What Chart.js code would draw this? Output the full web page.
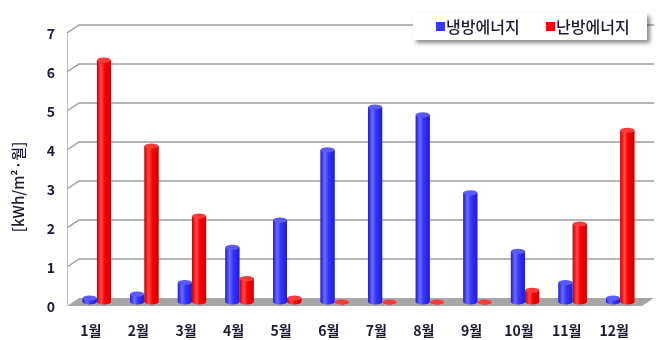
<!DOCTYPE html>
<html>
<head>
<meta charset="utf-8">
<script src="https://cdn.jsdelivr.net/npm/chart.js@4.4.1/dist/chart.umd.min.js"></script>
<style>
  html, body { margin: 0; padding: 0; background: #ffffff; }
  #wrap { width: 659px; height: 340px; position: relative; }
</style>
</head>
<body>
<div id="wrap"><canvas id="c" width="659" height="340"></canvas></div>
<script>
// Monthly energy demand per unit floor area
const months = ['1월', '2월', '3월', '4월', '5월', '6월', '7월', '8월', '9월', '10월', '11월', '12월'];
const coolingEnergy = [0.1, 0.2, 0.5, 1.4, 2.1, 3.9, 5.0, 4.8, 2.8, 1.3, 0.5, 0.1];
const heatingEnergy = [6.2, 4.0, 2.2, 0.6, 0.1, 0, 0, 0, 0, 0.3, 2.0, 4.4];
const yTicks = [0, 1, 2, 3, 4, 5, 6, 7];
const yTitle = '[kWh/m²·월]';

const seriesNames = ['냉방에너지', '난방에너지'];
const seriesColors = [
  { base: '#3535ff', light: '#6c6cff', dark: '#1e1ed0', top: '#5a5aff' },
  { base: '#ff0000', light: '#ff4a4a', dark: '#c80000', top: '#ff3a3a' }
];

// depth offsets for the pseudo-3D walls and floor
const DX = 6, DY = 4;

const wallPlugin = {
  id: 'wall3d',
  beforeDatasetsDraw(chart) {
    const { ctx, chartArea: a, scales: { y } } = chart;
    const leftFront = a.left - DX, leftBack = a.left + DX;
    const rightBack = a.right + DX + 4;
    ctx.save();
    // floor
    const y0 = y.getPixelForValue(0);
    ctx.fillStyle = '#a6a6a6';
    ctx.beginPath();
    ctx.moveTo(leftFront, y0 + DY);
    ctx.lineTo(leftBack, y0 - DY);
    ctx.lineTo(rightBack, y0 - DY);
    ctx.lineTo(rightBack - 2 * DX, y0 + DY);
    ctx.closePath();
    ctx.fill();
    // gridlines on the left and back walls
    ctx.strokeStyle = '#9e9e9e';
    ctx.lineWidth = 1.5;
    yTicks.forEach(v => {
      if (v === 0) return;
      const py = y.getPixelForValue(v);
      ctx.beginPath();
      ctx.moveTo(leftFront, py + DY);
      ctx.lineTo(leftBack, py - DY);
      ctx.lineTo(rightBack, py - DY);
      ctx.stroke();
    });
    // left wall edge
    ctx.strokeStyle = '#c0c0c0';
    ctx.lineWidth = 1;
    ctx.beginPath();
    ctx.moveTo(leftFront + 0.5, y.getPixelForValue(7) + DY);
    ctx.lineTo(leftFront + 0.5, y0 + DY);
    ctx.stroke();
    ctx.restore();
  },
  afterDatasetsDraw(chart) {
    const { ctx } = chart;
    ctx.save();
    chart.data.datasets.forEach((ds, di) => {
      const col = seriesColors[di];
      chart.getDatasetMeta(di).data.forEach(bar => {
        const p = bar.getProps(['x', 'y', 'base', 'width'], true);
        const l = p.x - p.width / 2, r = p.x + p.width / 2;
        const rx = p.width / 2, ry = 2.6;
        const g = ctx.createLinearGradient(l, 0, r, 0);
        g.addColorStop(0, col.dark);
        g.addColorStop(0.3, col.light);
        g.addColorStop(0.55, col.base);
        g.addColorStop(1, col.dark);
        ctx.fillStyle = g;
        // cylinder body with rounded bottom
        ctx.beginPath();
        ctx.moveTo(l, p.y);
        ctx.lineTo(l, p.base);
        ctx.ellipse(p.x, p.base, rx, ry, 0, Math.PI, 0, true);
        ctx.lineTo(r, p.y);
        ctx.closePath();
        ctx.fill();
        // top cap
        ctx.fillStyle = col.top;
        ctx.beginPath();
        ctx.ellipse(p.x, p.y, rx, ry, 0, 0, Math.PI * 2);
        ctx.fill();
      });
    });
    ctx.restore();
  },
  afterDraw(chart) {
    const { ctx } = chart;
    // vertical axis title
    ctx.save();
    ctx.translate(18, 187);
    ctx.rotate(-Math.PI / 2);
    ctx.font = '500 15px "Noto Sans CJK KR"';
    ctx.fillStyle = '#1a1a33';
    ctx.textAlign = 'center';
    ctx.textBaseline = 'middle';
    ctx.fillText(yTitle, 0, 0);
    ctx.restore();
    // legend box
    const bx = 413, by = 13, bw = 234, bh = 27;
    ctx.save();
    ctx.shadowColor = 'rgba(0,0,0,0.45)';
    ctx.shadowBlur = 4;
    ctx.shadowOffsetX = 3;
    ctx.shadowOffsetY = 3;
    ctx.fillStyle = '#ffffff';
    ctx.fillRect(bx, by, bw, bh);
    ctx.restore();
    ctx.save();
    ctx.font = '500 16px "Noto Sans CJK KR"';
    ctx.textBaseline = 'middle';
    const items = [[436, 446], [546, 556]];
    items.forEach((it, i) => {
      ctx.fillStyle = seriesColors[i].base;
      ctx.fillRect(it[0], by + 9, 9, 9);
      ctx.fillStyle = '#1a1a33';
      ctx.fillText(seriesNames[i], it[1], by + bh / 2);
    });
    ctx.restore();
  }
};

new Chart(document.getElementById('c'), {
  type: 'bar',
  data: {
    labels: months,
    datasets: [
      { label: seriesNames[0], data: coolingEnergy, backgroundColor: seriesColors[0].base },
      { label: seriesNames[1], data: heatingEnergy, backgroundColor: seriesColors[1].base }
    ]
  },
  options: {
    responsive: false,
    animation: false,
    devicePixelRatio: 1,
    layout: { padding: { left: 0, top: 29, right: 15, bottom: 0 } },
    datasets: { bar: { categoryPercentage: 0.6, barPercentage: 0.98 } },
    plugins: { legend: { display: false }, tooltip: { enabled: false } },
    scales: {
      x: {
        grid: { display: false },
        border: { display: false },
        ticks: {
          color: '#1a1a33',
          font: { family: '"Noto Sans CJK KR"', size: 14, weight: 'bold' },
          padding: 12,
          labelOffset: -6,
          maxRotation: 0
        },
        afterFit(scale) { scale.height = 38; }
      },
      y: {
        min: 0,
        max: 7,
        afterBuildTicks(scale) { scale.ticks = yTicks.map(v => ({ value: v })); },
        grid: { display: false },
        border: { display: false },
        ticks: {
          color: '#1a1a33',
          font: { family: '"Noto Sans CJK KR"', size: 14, weight: 'bold' },
          padding: 10,
          labelOffset: 5
        },
        afterFit(scale) { scale.width = 73; }
      }
    }
  },
  plugins: [wallPlugin]
});
</script>
</body>
</html>
